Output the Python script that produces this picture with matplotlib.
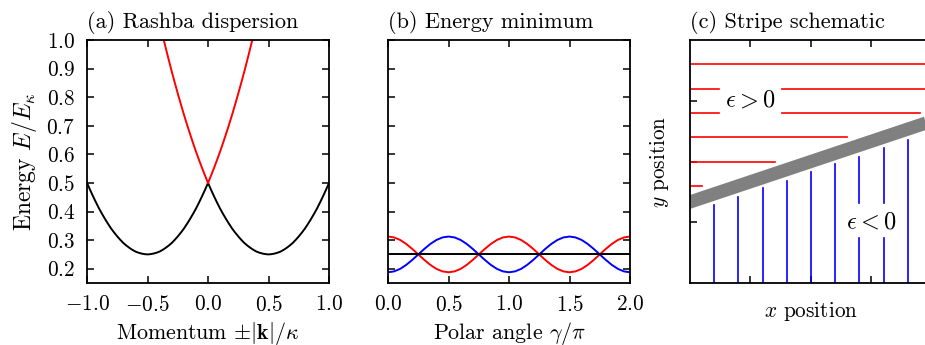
import numpy as np
import matplotlib
matplotlib.use('Agg')
import matplotlib.pyplot as plt

plt.rcParams['font.family'] = 'serif'
plt.rcParams['font.serif'] = ['cmr10']
plt.rcParams['mathtext.fontset'] = 'cm'
plt.rcParams['axes.formatter.use_mathtext'] = True
plt.rcParams['font.size'] = 15.3
plt.rcParams['axes.titlesize'] = 16
plt.rcParams['axes.linewidth'] = 1.3

# (a) Rashba dispersion, energies read against |k| (same on both sides)
k_abs = [0.0, 0.025, 0.05, 0.075, 0.1, 0.125, 0.15, 0.175, 0.2, 0.225,
         0.25, 0.275, 0.3, 0.325, 0.35, 0.375, 0.4, 0.425, 0.45, 0.475,
         0.5, 0.525, 0.55, 0.575, 0.6, 0.625, 0.65, 0.675, 0.7, 0.725,
         0.75, 0.775, 0.8, 0.825, 0.85, 0.875, 0.9, 0.925, 0.95, 0.975, 1.0]
e_lower = [0.5, 0.476, 0.453, 0.431, 0.41, 0.391, 0.373, 0.356, 0.34, 0.326,
           0.313, 0.301, 0.29, 0.281, 0.273, 0.266, 0.26, 0.256, 0.253, 0.251,
           0.25, 0.251, 0.253, 0.256, 0.26, 0.266, 0.273, 0.281, 0.29, 0.301,
           0.313, 0.326, 0.34, 0.356, 0.373, 0.391, 0.41, 0.431, 0.453, 0.476, 0.5]
e_upper = [0.5, 0.526, 0.553, 0.581, 0.61, 0.641, 0.673, 0.706, 0.74, 0.776,
           0.813, 0.851, 0.89, 0.931, 0.973, 1.016, 1.06]

# (b) energy minimum vs polar angle
gamma = [0.0, 0.05, 0.1, 0.15, 0.2, 0.25, 0.3, 0.35, 0.4, 0.45,
         0.5, 0.55, 0.6, 0.65, 0.7, 0.75, 0.8, 0.85, 0.9, 0.95,
         1.0, 1.05, 1.1, 1.15, 1.2, 1.25, 1.3, 1.35, 1.4, 1.45,
         1.5, 1.55, 1.6, 1.65, 1.7, 1.75, 1.8, 1.85, 1.9, 1.95, 2.0]
e_red = [0.3125, 0.3094, 0.3006, 0.2867, 0.2693, 0.25, 0.2307, 0.2133, 0.1994, 0.1906,
         0.1875, 0.1906, 0.1994, 0.2133, 0.2307, 0.25, 0.2693, 0.2867, 0.3006, 0.3094,
         0.3125, 0.3094, 0.3006, 0.2867, 0.2693, 0.25, 0.2307, 0.2133, 0.1994, 0.1906,
         0.1875, 0.1906, 0.1994, 0.2133, 0.2307, 0.25, 0.2693, 0.2867, 0.3006, 0.3094, 0.3125]
e_blue = [0.1875, 0.1906, 0.1994, 0.2133, 0.2307, 0.25, 0.2693, 0.2867, 0.3006, 0.3094,
          0.3125, 0.3094, 0.3006, 0.2867, 0.2693, 0.25, 0.2307, 0.2133, 0.1994, 0.1906,
          0.1875, 0.1906, 0.1994, 0.2133, 0.2307, 0.25, 0.2693, 0.2867, 0.3006, 0.3094,
          0.3125, 0.3094, 0.3006, 0.2867, 0.2693, 0.25, 0.2307, 0.2133, 0.1994, 0.1906, 0.1875]
e_flat = 0.25

# (c) stripe schematic
red_y = [0.9, 0.8, 0.7, 0.6, 0.5, 0.4]
red_end = [1.1, 1.1, 0.95, 0.65, 0.35, 0.05]
blue_x = [0.1, 0.2, 0.3, 0.4, 0.5, 0.6, 0.7, 0.8, 0.9]
blue_top = [0.32, 0.355, 0.39, 0.42, 0.455, 0.49, 0.52, 0.555, 0.59]
wall_x = [-0.1, 1.1]
wall_y = [0.3, 0.7]
gap_red = (0.12, 0.38)     # rows broken around the eps > 0 label
gap_blue = (0.185, 0.33)   # columns broken around the eps < 0 label
broken_rows = [0.8, 0.7]
broken_cols = [0.7, 0.8]

fig = plt.figure(figsize=(9.25, 3.45), dpi=100)
w, h = 0.2616, 0.7043
ax1 = fig.add_axes([0.0941, 0.1797, w, h])
ax2 = fig.add_axes([0.4195, 0.1797, w, h])
ax3 = fig.add_axes([0.7459, 0.1797, w, h])

for ax in (ax1, ax2, ax3):
    ax.tick_params(direction='in', top=True, right=True, length=5, width=1.1, pad=8.5)

lw = 1.4
k = np.array(k_abs)
ax1.plot(-k, e_lower, color='black', lw=lw)
ax1.plot(k, e_lower, color='black', lw=lw)
ax1.plot(-k[:len(e_upper)], e_upper, color='red', lw=lw)
ax1.plot(k[:len(e_upper)], e_upper, color='red', lw=lw)
ax1.set_xlim(-1, 1)
ax1.set_ylim(0.15, 1.0)
ax1.set_xticks([-1.0, -0.5, 0.0, 0.5, 1.0])
ax1.set_yticks(np.arange(2, 11) / 10)
ax1.set_title('(a) Rashba dispersion', loc='left', pad=9)
ax1.set_ylabel(r'Energy $E/E_\kappa$', labelpad=5, fontsize=17)
ax1.set_xlabel(r'Momentum $\pm|\mathbf{k}|/\kappa$', labelpad=3.5, fontsize=15.8)

ax2.plot(gamma, e_red, color='red', lw=lw)
ax2.plot(gamma, e_blue, color='blue', lw=lw)
ax2.plot([gamma[0], gamma[-1]], [e_flat, e_flat], color='black', lw=lw)
ax2.set_xlim(0, 2)
ax2.set_ylim(0.15, 1.0)
ax2.set_xticks([0.0, 0.5, 1.0, 1.5, 2.0])
ax2.set_yticks(np.arange(2, 11) / 10)
ax2.tick_params(labelleft=False)
ax2.set_title('(b) Energy minimum', loc='left', pad=9)
ax2.set_xlabel(r'Polar angle $\gamma/\pi$', labelpad=3.5, fontsize=15.8)

slw = 1.2
for y, end in zip(red_y, red_end):
    if y in broken_rows:
        ax3.plot([0, gap_red[0]], [y, y], color='red', lw=slw)
        ax3.plot([gap_red[1], end], [y, y], color='red', lw=slw)
    else:
        ax3.plot([0, end], [y, y], color='red', lw=slw)
for x, top in zip(blue_x, blue_top):
    if x in broken_cols:
        ax3.plot([x, x], [0, gap_blue[0]], color='blue', lw=slw)
        ax3.plot([x, x], [gap_blue[1], top], color='blue', lw=slw)
    else:
        ax3.plot([x, x], [0, top], color='blue', lw=slw)
ax3.plot(wall_x, wall_y, color='#808080', lw=9.5, solid_capstyle='butt')
ax3.text(0.25, 0.75, r'$\epsilon > 0$', ha='center', va='center', fontsize=17.5)
ax3.text(0.75, 0.25, r'$\epsilon < 0$', ha='center', va='center', fontsize=17.5)
ax3.set_xlim(0, 1)
ax3.set_ylim(0, 1)
ax3.set_xticks([0.25, 0.5, 0.75])
ax3.set_yticks([0.25, 0.5, 0.75])
ax3.tick_params(labelbottom=False, labelleft=False)
ax3.set_title('(c) Stripe schematic', loc='left', pad=9)
ax3.set_xlabel(r'$x$ position', labelpad=12)
ax3.set_ylabel(r'$y$ position', labelpad=14)

fig.savefig('out.png', dpi=100)
